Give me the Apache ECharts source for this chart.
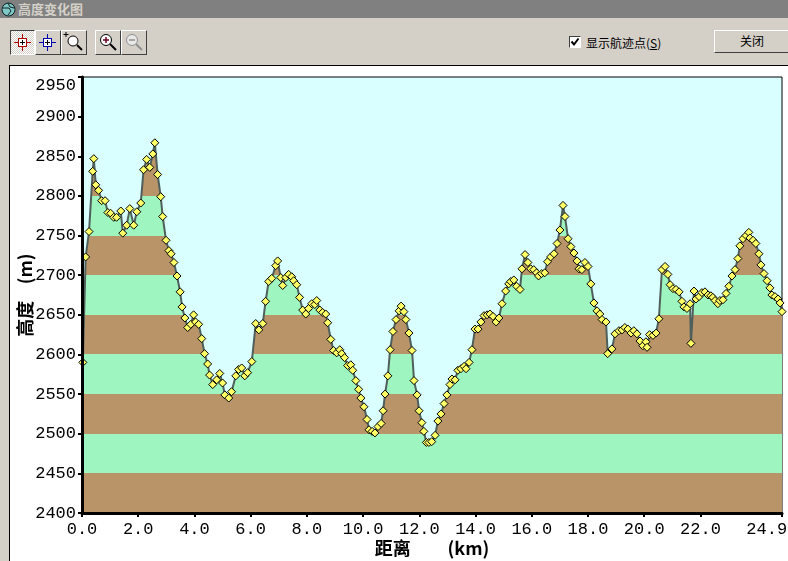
<!DOCTYPE html>
<html><head><meta charset="utf-8">
<script src="https://cdn.jsdelivr.net/npm/echarts@6/dist/echarts.min.js"></script>
<style>
html,body{margin:0;padding:0;background:#d4d0c8;overflow:hidden}
#stage{position:relative;width:788px;height:561px;overflow:hidden;font-family:"Noto Sans CJK SC",sans-serif;color:#000}
#bar{position:absolute;left:0;top:0;width:788px;height:18px;background:#808080;color:#d4d0c8;font-size:13px;font-weight:700;line-height:18px}
#bar span{position:absolute;left:18px;top:0}
#bar svg{position:absolute;left:1px;top:2px}
.btn{position:absolute;top:30px;height:25px;box-sizing:border-box;background:#d4d0c8;border:1px solid;border-color:#fff #404040 #404040 #fff}
.btn svg{display:block;width:23px;height:23px}
.btn.on{border-color:#404040 #fff #fff #404040;background:repeating-conic-gradient(#fff 0 25%,#d4d0c8 0 50%) 0 0/2px 2px}
#panel{position:absolute;left:9px;top:65px;width:800px;height:510px;background:#fff;border:1px solid #000;box-sizing:border-box}
#chart{position:absolute;left:0;top:0;width:788px;height:561px}
#check{position:absolute;left:569px;top:36px;width:12px;height:12px;box-sizing:border-box;background:#fff;border:1px solid #404040;border-right-color:#fff;border-bottom-color:#fff}
#lab{position:absolute;left:586px;top:35px;font-size:12px;line-height:16px}
#close{position:absolute;left:714px;top:30px;width:80px;height:23px;box-sizing:border-box;border:1px solid;border-color:#fff #404040 #404040 #fff;font-size:12px;line-height:20px;padding-left:25px}
</style></head>
<body><div id="stage">
<div id="bar"><svg width="15" height="15" viewBox="0 0 15 15"><circle cx="7.5" cy="7.5" r="6.5" fill="#7fc8c8" stroke="#102020"/><path d="M2 6h6l2 3-3 4M7 1l2 4 4 1" fill="none" stroke="#102020"/></svg><span>高度变化图</span></div>
<div class="btn on" style="left:10px;width:25px"><svg viewBox="0 0 23 23"><path d="M11.5 3v17M3 11.5h17" stroke="#b00000"/><rect x="7.5" y="7.5" width="8" height="8" fill="#fff" stroke="#b00000"/><path d="M11.5 9v5M9 11.5h5" stroke="#000"/></svg></div>
<div class="btn" style="left:35px;width:26px"><svg viewBox="0 0 23 23"><path d="M11.5 3v17M3 11.5h17" stroke="#0000b0"/><rect x="7.5" y="7.5" width="8" height="8" fill="#fff" stroke="#0000b0"/><path d="M11.5 9v5M9 11.5h5" stroke="#000"/></svg></div>
<div class="btn" style="left:61px;width:26px"><svg viewBox="0 0 23 23"><circle cx="11" cy="10" r="5" fill="#fff" stroke="#000"/><path d="M15 14l5 5" stroke="#000" stroke-width="2"/><path d="M4 1v5M1.500 3.500h5" stroke="#000"/></svg></div>
<div class="btn" style="left:95px;width:26px"><svg viewBox="0 0 23 23"><circle cx="10" cy="9" r="5.500" fill="#fff" stroke="#000"/><path d="M14 13l6 6" stroke="#000" stroke-width="2"/><path d="M10 6v6M7 9h6" stroke="#700020" stroke-width="1.500"/></svg></div>
<div class="btn" style="left:121px;width:26px"><svg viewBox="0 0 23 23"><circle cx="10" cy="9" r="5.500" fill="#e8e8e8" stroke="#909090"/><path d="M14 13l6 6" stroke="#909090" stroke-width="2"/><path d="M7 9h6" stroke="#909090" stroke-width="1.500"/></svg></div>
<div id="check"><svg width="10" height="10" viewBox="0 0 10 10" style="display:block"><path d="M1.500 4.500l2.500 3 4.500-6" fill="none" stroke="#000" stroke-width="2"/></svg></div>
<div id="lab">显示航迹点(<u>S</u>)</div>
<div id="close">关闭</div>
<div id="panel"></div>
<div id="chart"></div>
</div>
<script>
const distanceKm = [0.03,0.13,0.25,0.38,0.42,0.49,0.59,0.70,0.82,0.92,1.02,1.13,1.23,1.38,1.45,1.59,1.70,1.84,1.95,2.09,2.19,2.30,2.41,2.52,2.59,2.69,2.80,2.87,2.99,3.09,3.17,3.27,3.38,3.49,3.56,3.66,3.76,3.87,3.97,4.04,4.15,4.26,4.36,4.47,4.54,4.65,4.79,4.90,5.00,5.08,5.22,5.32,5.47,5.57,5.68,5.79,5.89,6.04,6.18,6.29,6.43,6.53,6.64,6.75,6.89,6.96,7.07,7.14,7.25,7.35,7.46,7.53,7.64,7.74,7.85,7.96,8.06,8.17,8.28,8.35,8.46,8.56,8.67,8.74,8.85,8.95,9.06,9.17,9.24,9.34,9.45,9.56,9.63,9.74,9.84,9.92,10.03,10.14,10.21,10.32,10.42,10.53,10.64,10.71,10.78,10.88,10.96,11.06,11.17,11.28,11.35,11.45,11.52,11.63,11.74,11.81,11.92,11.99,12.09,12.16,12.25,12.34,12.44,12.56,12.66,12.77,12.88,12.98,13.09,13.16,13.27,13.37,13.48,13.59,13.66,13.77,13.87,13.98,14.09,14.19,14.30,14.41,14.51,14.62,14.73,14.83,14.94,15.07,15.18,15.25,15.36,15.46,15.58,15.65,15.76,15.86,15.96,16.07,16.17,16.24,16.35,16.46,16.56,16.67,16.79,16.90,17.00,17.11,17.18,17.29,17.39,17.50,17.61,17.68,17.78,17.89,18.00,18.10,18.21,18.32,18.42,18.50,18.64,18.70,18.85,18.96,19.10,19.21,19.31,19.42,19.53,19.63,19.74,19.85,19.95,20.06,20.10,20.19,20.31,20.42,20.52,20.63,20.74,20.84,20.92,21.02,21.13,21.24,21.34,21.41,21.52,21.63,21.66,21.77,21.84,21.95,22.05,22.16,22.27,22.37,22.44,22.52,22.62,22.69,22.80,22.91,23.01,23.12,23.23,23.33,23.40,23.51,23.62,23.72,23.76,23.87,23.97,24.08,24.15,24.26,24.37,24.47,24.54,24.65,24.76,24.83,24.90];
const altitudeM = [2590,2723,2755,2831,2847,2814,2807,2794,2794,2779,2778,2773,2773,2781,2753,2763,2784,2763,2780,2791,2833,2846,2836,2853,2867,2827,2799,2774,2744,2731,2727,2716,2699,2679,2660,2646,2634,2638,2650,2641,2638,2620,2601,2588,2574,2562,2568,2576,2564,2549,2545,2553,2573,2581,2583,2573,2577,2591,2639,2631,2639,2667,2692,2696,2712,2718,2697,2687,2697,2701,2698,2693,2688,2672,2656,2651,2658,2664,2663,2668,2656,2653,2651,2640,2619,2605,2602,2606,2601,2596,2586,2587,2580,2567,2556,2545,2534,2518,2505,2503,2501,2509,2513,2529,2550,2573,2606,2629,2644,2655,2661,2654,2644,2627,2605,2567,2549,2529,2514,2503,2489,2489,2490,2498,2516,2525,2538,2549,2562,2569,2568,2580,2582,2585,2582,2590,2606,2632,2632,2641,2649,2650,2651,2648,2641,2646,2664,2680,2689,2692,2694,2686,2682,2708,2726,2716,2708,2707,2703,2699,2702,2703,2717,2723,2727,2740,2757,2788,2774,2746,2736,2728,2718,2708,2707,2716,2711,2689,2665,2655,2651,2644,2641,2601,2607,2626,2630,2631,2634,2632,2627,2630,2626,2617,2611,2616,2609,2625,2624,2627,2645,2707,2711,2701,2688,2683,2682,2679,2667,2660,2658,2664,2614,2680,2670,2673,2678,2679,2675,2674,2672,2668,2664,2668,2669,2677,2686,2699,2707,2721,2737,2746,2750,2754,2747,2744,2740,2727,2713,2702,2693,2684,2675,2673,2670,2665,2654];
const xTickValues = [0,2,4,6,8,10,12,14,16,18,20,22,24.9];
const bandEdges = [2400,2450,2500,2550,2600,2650,2700,2750,2800,2850,2950];
const bandColors = ['#b89468','#9ff5bf','#b89468','#9ff5bf','#b89468','#9ff5bf','#b89468','#9ff5bf','#b89468','#9ff5bf'];
const xTitle = '距离         (km)';
const yTitle = '高度    (m)';

const track = distanceKm.map((d, i) => [d, altitudeM[i]]);
const pieces = bandColors.map((c, i) => ({ min: bandEdges[i], max: bandEdges[i + 1], color: c }));
const labelFont = { fontFamily: '"Liberation Mono"', fontSize: 17, color: '#000' };
const titleFont = { fontFamily: '"Noto Sans CJK SC"', fontSize: 18, fontWeight: 'bold', color: '#000' };
const lastTick = xTickValues[xTickValues.length - 1];

const chart = echarts.init(document.getElementById('chart'), null, { renderer: 'canvas' });
chart.setOption({
  animation: false,
  backgroundColor: 'transparent',
  grid: { left: 82, right: 6, top: 77, bottom: 48, outerBoundsMode: 'none', containLabel: false, show: true, backgroundColor: '#d9ffff', borderColor: '#000', borderWidth: 1 },
  xAxis: {
    type: 'value', min: 0, max: 24.9, z: 5,
    name: xTitle, nameLocation: 'middle', nameGap: 26, nameMoveOverlap: false, nameTextStyle: titleFont,
    splitLine: { show: false },
    axisLine: { show: true, lineStyle: { color: '#000', width: 3 } },
    axisTick: { show: true, customValues: xTickValues, length: 4, lineStyle: { color: '#000', width: 2 } },
    axisLabel: { customValues: xTickValues, margin: 8, hideOverlap: false,
      formatter: v => v.toFixed(1) + (v === lastTick ? '   ' : ''), ...labelFont }
  },
  yAxis: {
    type: 'value', min: 2400, max: 2950, interval: 50, z: 5,
    name: yTitle, nameLocation: 'middle', nameGap: 48, nameMoveOverlap: false, nameTextStyle: titleFont,
    splitLine: { show: false },
    axisLine: { show: true, lineStyle: { color: '#000', width: 3 } },
    axisTick: { show: true, length: 4, lineStyle: { color: '#000', width: 2 } },
    axisLabel: { margin: 6, verticalAlignMaxLabel: 'top', formatter: v => String(v), ...labelFont }
  },
  visualMap: { show: false, type: 'piecewise', dimension: 1, seriesIndex: 0, pieces: pieces },
  series: [
    { type: 'line', data: track, showSymbol: false, symbol: 'none', lineStyle: { width: 0 },
      areaStyle: { opacity: 1, origin: 'start' }, z: 1 },
    { type: 'line', data: track, symbol: 'diamond', symbolSize: 8, showAllSymbol: true,
      lineStyle: { color: '#4f605c', width: 2 },
      itemStyle: { color: '#ffff66', borderColor: '#000', borderWidth: 1, borderJoin: 'round' }, z: 2 }
  ]
});
</script>
</body></html>
